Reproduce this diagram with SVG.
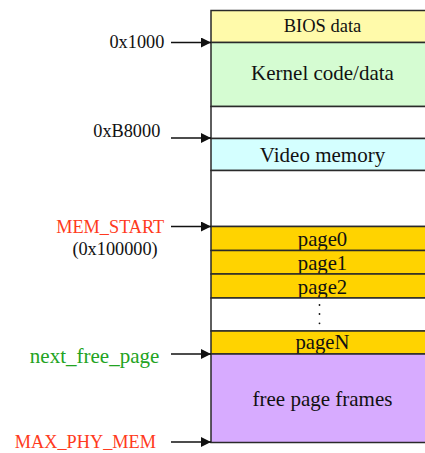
<svg xmlns="http://www.w3.org/2000/svg" width="425" height="453" viewBox="0 0 425 453">
  <style>
    .cell { stroke: #2a2a2a; stroke-width: 1.5; }
    text { font-family: 'Liberation Serif', 'DejaVu Serif', serif; }
    .lbl { fill: #111; text-anchor: middle; }
    .addr { fill: #111; text-anchor: end; }
    .red { fill: #ff3a20; }
    .green { fill: #22a322; }
    .conn { stroke: #111; stroke-width: 1.5; fill: none; marker-end: url(#arrow); }
  </style>
  <defs>
    <marker id="arrow" markerWidth="10" markerHeight="10" refX="10" refY="5" orient="auto" markerUnits="userSpaceOnUse">
      <path d="M0,0 L10,5 L0,10 Z" fill="#111"/>
    </marker>
  </defs>
  <rect width="425" height="453" fill="#ffffff"/>

  <!-- memory map cells -->
  <g id="bios">
    <rect class="cell" x="211" y="10.5" width="225" height="32" fill="#fffaaa"/>
    <text class="lbl" x="322.5" y="32" font-size="18.5">BIOS data</text>
  </g>
  <g id="kernel">
    <rect class="cell" x="211" y="42.5" width="225" height="64" fill="#d5fcd2"/>
    <text class="lbl" x="322.5" y="80" font-size="21">Kernel code/data</text>
  </g>
  <g id="gap1">
    <rect class="cell" x="211" y="106.5" width="225" height="32" fill="#ffffff"/>
  </g>
  <g id="video">
    <rect class="cell" x="211" y="138.5" width="225" height="32" fill="#d4ffff"/>
    <text class="lbl" x="322.5" y="161.5" font-size="21">Video memory</text>
  </g>
  <g id="gap2">
    <rect class="cell" x="211" y="170.5" width="225" height="56" fill="#ffffff"/>
  </g>
  <g id="page0">
    <rect class="cell" x="211" y="226.5" width="225" height="24" fill="#ffd300"/>
    <text class="lbl" x="322.5" y="245.5" font-size="20.7">page0</text>
  </g>
  <g id="page1">
    <rect class="cell" x="211" y="250.5" width="225" height="23.5" fill="#ffd300"/>
    <text class="lbl" x="322.5" y="269.5" font-size="20.7">page1</text>
  </g>
  <g id="page2">
    <rect class="cell" x="211" y="274" width="225" height="24" fill="#ffd300"/>
    <text class="lbl" x="322.5" y="293.5" font-size="20.7">page2</text>
  </g>
  <g id="ellipsis">
    <rect class="cell" x="211" y="298" width="225" height="33" fill="#ffffff"/>
    <circle cx="319.5" cy="305" r="0.9" fill="#111"/>
    <circle cx="319.5" cy="314" r="0.9" fill="#111"/>
    <circle cx="319.5" cy="323.3" r="0.9" fill="#111"/>
  </g>
  <g id="pageN">
    <rect class="cell" x="211" y="331" width="225" height="23" fill="#ffd300"/>
    <text class="lbl" x="322.5" y="348.5" font-size="20.7">pageN</text>
  </g>
  <g id="free">
    <rect class="cell" x="211" y="354" width="225" height="88.5" fill="#d7abff"/>
    <text class="lbl" x="322.5" y="406" font-size="21">free page frames</text>
  </g>

  <!-- address labels -->
  <g id="addr-0x1000"><text class="addr" x="164.3" y="48.3" font-size="18.3">0x1000</text></g>
  <g id="addr-0xB8000"><text class="addr" x="160.3" y="137" font-size="18.3">0xB8000</text></g>
  <g id="addr-mem-start">
    <text class="addr red" x="164.3" y="233.3" font-size="18.3">MEM_START</text>
    <text class="addr" x="157.7" y="254.5" font-size="18.3">(0x100000)</text>
  </g>
  <g id="addr-next-free"><text class="addr green" x="159.3" y="362.5" font-size="21">next_free_page</text></g>
  <g id="addr-max"><text class="addr red" x="156" y="448.3" font-size="18.3">MAX_PHY_MEM</text></g>

  <!-- pointers into the map -->
  <g id="connectors">
    <line class="conn" x1="171" y1="42.5" x2="211" y2="42.5"/>
    <line class="conn" x1="171" y1="138" x2="211" y2="138"/>
    <line class="conn" x1="171" y1="226.5" x2="211" y2="226.5"/>
    <line class="conn" x1="171" y1="354" x2="211" y2="354"/>
    <line class="conn" x1="171" y1="442" x2="211" y2="442"/>
  </g>
</svg>
